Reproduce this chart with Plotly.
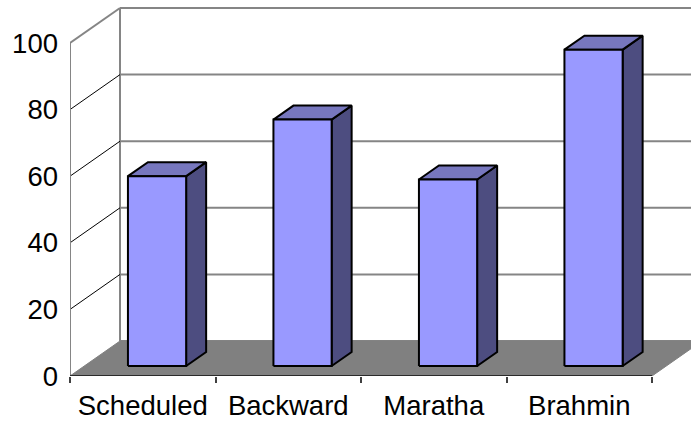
import plotly.graph_objects as go

# Chart data
categories = ["Scheduled", "Backward", "Maratha", "Brahmin"]
values = [57, 74, 56, 95]
y_ticks = [0, 20, 40, 60, 80, 100]

# Pseudo-3D projection, expressed in axis units
PX_PER_CAT = 145.5          # pixels per category along the front axis
PX_PER_UNIT = 3.33          # pixels per value unit
DEPTH_X = 50 / PX_PER_CAT   # horizontal shift of the back wall
DEPTH_Y = 35 / PX_PER_UNIT  # vertical shift of the back wall
BAR_WIDTH = 0.4
BAR_FRONT = 10 / 35         # bar front face, as a fraction of the depth
BAR_BACK = 24 / 35          # bar back face, as a fraction of the depth
N = len(categories)
Y_MAX = y_ticks[-1]

GRID = "#858585"
FRONT = "#9999FF"
SIDE = "#4D4D80"
TOP = "#7777BE"

fig = go.Figure()


def line(xs, ys, color, width):
    fig.add_trace(go.Scatter(x=xs, y=ys, mode="lines", hoverinfo="skip",
                             line=dict(color=color, width=width)))


def poly(xs, ys, fill, edge="black", width=2):
    fig.add_trace(go.Scatter(x=xs + xs[:1], y=ys + ys[:1], mode="lines",
                             fill="toself", fillcolor=fill, hoverinfo="skip",
                             line=dict(color=edge, width=width)))


# back wall gridlines and its left edge
for v in y_ticks:
    line([DEPTH_X, N + DEPTH_X], [v + DEPTH_Y, v + DEPTH_Y], GRID, 2)
line([DEPTH_X, DEPTH_X], [DEPTH_Y, Y_MAX + DEPTH_Y], GRID, 2)

# side wall connectors from the value axis to the back wall
for v in y_ticks[1:]:
    if v == Y_MAX:
        line([0, DEPTH_X], [v, v + DEPTH_Y], GRID, 2)
    else:
        line([0, DEPTH_X], [v, v + DEPTH_Y], "black", 1)

# floor
poly([0, N, N + DEPTH_X, DEPTH_X], [0, 0, DEPTH_Y, DEPTH_Y], "#808080",
     edge="#808080", width=1)

# front axes
line([0, 0], [0, Y_MAX], GRID, 2)
line([0, N], [0, 0], "#2a2a2a", 2)

# bars: side, top and front faces
dx = (BAR_BACK - BAR_FRONT) * DEPTH_X
dy = (BAR_BACK - BAR_FRONT) * DEPTH_Y
base = BAR_FRONT * DEPTH_Y
for i, v in enumerate(values):
    xl = i + (1 - BAR_WIDTH) / 2 + BAR_FRONT * DEPTH_X
    xr = xl + BAR_WIDTH
    top = base + v
    poly([xr, xr, xr + dx, xr + dx], [base, top, top + dy, base + dy], SIDE)
    poly([xl, xr, xr + dx, xl + dx], [top, top, top + dy, top + dy], TOP)
    poly([xl, xr, xr, xl], [base, base, top, top], FRONT)

W, H = 691, 421
ML, MB = 70, 45
fig.update_layout(
    width=W, height=H, autosize=False,
    margin=dict(l=ML, r=0, t=0, b=MB, pad=0),
    paper_bgcolor="white", plot_bgcolor="white",
    showlegend=False,
    font=dict(family="Liberation Sans, Arial, sans-serif", size=27.5, color="black"),
    xaxis=dict(
        range=[0, (W - ML) / PX_PER_CAT], showgrid=False, zeroline=False,
        showline=False, fixedrange=True,
        tickvals=[i + 0.5 for i in range(N)], ticktext=categories,
        ticks="", ticklabelstandoff=10,
        minor=dict(tickvals=list(range(N + 1)), ticks="outside", ticklen=6,
                   tickwidth=1.5, tickcolor="#404040", showgrid=False),
    ),
    yaxis=dict(
        range=[0, (H - MB) / PX_PER_UNIT], showgrid=False, zeroline=False,
        showline=False, fixedrange=True,
        tickvals=y_ticks, ticks="", ticklabelstandoff=11,
    ),
)

fig.write_html("out.html")
